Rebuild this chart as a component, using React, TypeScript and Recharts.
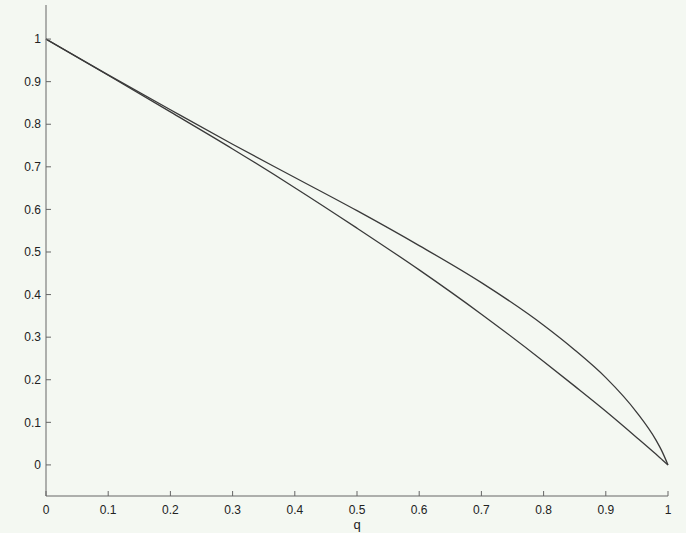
import { LineChart, Line, XAxis, YAxis } from 'recharts';

// q values along the x axis (denser near 1 where the upper curve bends)
const qValues = [0, 0.1, 0.2, 0.3, 0.4, 0.5, 0.6, 0.7, 0.8, 0.85, 0.9, 0.95, 0.98, 0.99, 1];
// upper curve
const upperValues = [1, 0.916, 0.834, 0.753, 0.675, 0.597, 0.515, 0.428, 0.328, 0.27, 0.205, 0.123, 0.06, 0.033, 0];
// lower curve
const lowerValues = [1, 0.915, 0.829, 0.742, 0.651, 0.556, 0.458, 0.354, 0.243, 0.185, 0.126, 0.064, 0.026, 0.013, 0];

const xTicks = [0, 0.1, 0.2, 0.3, 0.4, 0.5, 0.6, 0.7, 0.8, 0.9, 1];
const yTicks = [0, 0.1, 0.2, 0.3, 0.4, 0.5, 0.6, 0.7, 0.8, 0.9, 1];

const data = qValues.map((q, i) => ({ q, upper: upperValues[i], lower: lowerValues[i] }));

const BG = '#f4f8f2';
const AXIS = '#666';
const INK = '#3a3a3a';
const font = { fontSize: 12, fill: '#222', fontFamily: 'Liberation Sans, Arial, sans-serif' };
const fmt = (v: number) => String(Math.round(v * 10) / 10);
const blank = () => '';

export default function App() {
  return (
    <div style={{ position: 'fixed', top: 0, left: 0, width: 686, height: 533, background: BG, overflow: 'hidden' }}>
      <LineChart width={686} height={533} data={data} margin={{ top: 5, right: 18, bottom: 7, left: 6 }}>
        <XAxis
          xAxisId="bottom"
          dataKey="q"
          type="number"
          domain={[0, 1]}
          ticks={xTicks}
          tickFormatter={fmt}
          height={30}
          tickSize={-5}
          tickMargin={14}
          tick={font}
          stroke={AXIS}
          label={{ value: 'q', position: 'insideBottom', offset: -3, style: { ...font, fontSize: 13 } }}
        />
        <XAxis
          xAxisId="top"
          orientation="top"
          dataKey="q"
          type="number"
          domain={[0, 1]}
          ticks={xTicks}
          tickFormatter={blank}
          height={0}
          tickSize={-5}
          stroke={AXIS}
        />
        <YAxis
          yAxisId="left"
          type="number"
          domain={[-0.073, 1.08]}
          ticks={yTicks}
          tickFormatter={fmt}
          width={40}
          tickSize={-5}
          tickMargin={10}
          tick={font}
          stroke={AXIS}
        />
        <YAxis
          yAxisId="right"
          orientation="right"
          type="number"
          domain={[-0.073, 1.08]}
          ticks={yTicks}
          tickFormatter={blank}
          width={0}
          tickSize={-5}
          stroke={AXIS}
        />
        <Line xAxisId="bottom" yAxisId="left" type="monotone" dataKey="upper" stroke={INK} strokeWidth={1.3} dot={false} isAnimationActive={false} />
        <Line xAxisId="bottom" yAxisId="left" type="monotone" dataKey="lower" stroke={INK} strokeWidth={1.3} dot={false} isAnimationActive={false} />
      </LineChart>
    </div>
  );
}
